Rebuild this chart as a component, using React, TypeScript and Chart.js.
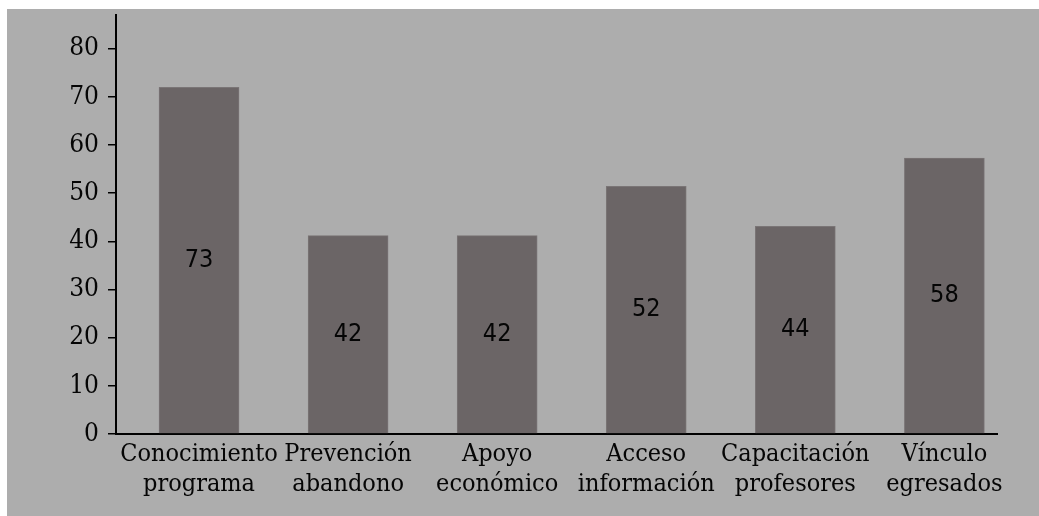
import React, { useEffect, useRef } from "react";
import { Chart, registerables } from "chart.js";

Chart.register(...registerables);

const categories: string[][] = [
  ["Conocimiento", "programa"],
  ["Prevención", "abandono"],
  ["Apoyo", "económico"],
  ["Acceso", "información"],
  ["Capacitación", "profesores"],
  ["Vínculo", "egresados"],
];
const barValues: number[] = [72, 41.2, 41.2, 51.4, 43.1, 57.3];
const valueLabels: string[] = ["73", "42", "42", "52", "44", "58"];
const yTicks: number[] = [0, 10, 20, 30, 40, 50, 60, 70, 80];

const BG = "#adadad";
const BAR = "#6b6566";
const TEXT = "#050505";
const SERIF = "'DejaVu Serif Condensed', 'DejaVu Serif', serif";
const SANS = "'DejaVu Sans Condensed', 'DejaVu Sans', sans-serif";

const labelPlugin = {
  id: "barLabels",
  afterDatasetsDraw(chart: any) {
    const ctx = chart.ctx;
    const meta = chart.getDatasetMeta(0);
    ctx.save();
    ctx.fillStyle = TEXT;
    ctx.font = `25px ${SANS}`;
    ctx.textAlign = "center";
    ctx.textBaseline = "middle";
    meta.data.forEach((bar: any, i: number) => {
      const y = (bar.y + bar.base) / 2;
      ctx.fillText(valueLabels[i], bar.x, y);
    });
    ctx.restore();
  },
};

export default function App() {
  const ref = useRef<HTMLCanvasElement>(null);
  useEffect(() => {
    if (!ref.current) return;
    const chart = new Chart(ref.current, {
      type: "bar",
      data: {
        datasets: [
          {
            data: barValues.map((v, i) => ({ x: i, y: v })),
            backgroundColor: BAR,
            borderColor: "#7a7576",
            borderWidth: 1,
            barThickness: 80,
          },
        ],
      },
      options: {
        responsive: false,
        animation: false,
        layout: { padding: { top: 6, right: 42, left: 0, bottom: 0 } },
        plugins: { legend: { display: false }, tooltip: { enabled: false } },
        scales: {
          x: {
            type: "linear",
            offset: false,
            min: -0.557,
            max: 5.353,
            afterBuildTicks: (s: any) => {
              s.ticks = categories.map((_, i) => ({ value: i }));
            },
            afterFit: (s: any) => {
              s.height = 82;
              s.paddingLeft = 0;
              s.paddingRight = 0;
            },
            grid: { display: false, drawTicks: false },
            border: { color: "#000", width: 2 },
            ticks: {
              autoSkip: false,
              maxRotation: 0,
              padding: 5,
              color: TEXT,
              font: { family: SERIF, size: 25, lineHeight: 1.2 },
              callback: (v: any) => categories[v] ?? "",
            },
          },
          y: {
            min: 0,
            max: 87,
            afterBuildTicks: (s: any) => {
              s.ticks = yTicks.map((v) => ({ value: v }));
            },
            afterFit: (s: any) => {
              s.width = 109;
              s.paddingTop = 0;
              s.paddingBottom = 0;
            },
            grid: { drawOnChartArea: false, drawTicks: true, tickLength: 8, color: "#000", lineWidth: 1.5 },
            border: { color: "#000", width: 2 },
            ticks: {
              padding: 9,
              color: TEXT,
              font: { family: SERIF, size: 26 },
            },
          },
        },
      },
      plugins: [labelPlugin],
    });
    return () => chart.destroy();
  }, []);
  return (
    <div
      style={{
        position: "fixed",
        left: 7,
        top: 9,
        width: 1032,
        height: 507,
        background: BG,
      }}
    >
      <canvas ref={ref} width={1032} height={507} style={{ display: "block" }} />
    </div>
  );
}
